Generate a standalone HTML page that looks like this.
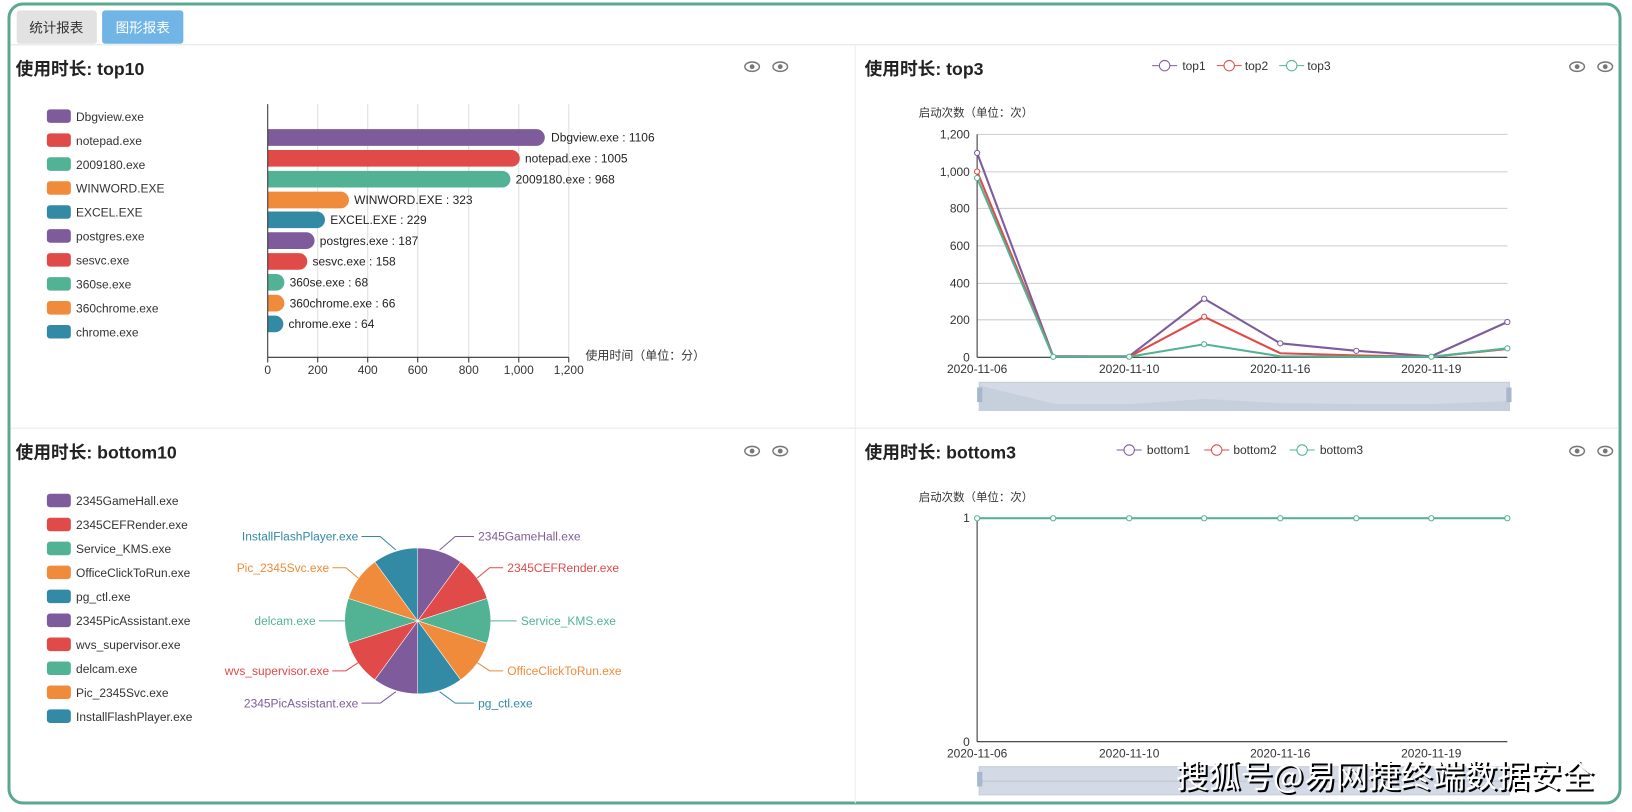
<!DOCTYPE html>
<html><head><meta charset="utf-8"><style>
html,body{margin:0;padding:0;background:#fff;}
svg{display:block;font-family:"Liberation Sans","Noto Sans CJK SC",sans-serif;}
</style></head><body>
<svg width="1632" height="812" viewBox="0 0 1632 812" xmlns="http://www.w3.org/2000/svg">
<defs>
<g id="eye"><ellipse cx="0" cy="0" rx="7" ry="4.5" fill="none" stroke="#777" stroke-width="1.4"/><circle cx="0" cy="0" r="2.3" fill="#777"/></g>
</defs>
<rect x="9" y="4" width="1611" height="799" rx="14" fill="#fff" stroke="#5aa88f" stroke-width="3"/>
<g transform="scale(1.0417)">
<rect x="16" y="10" width="77" height="32" rx="3" fill="#e2e2e2"/>
<text x="54" y="31" font-size="13" fill="#333" text-anchor="middle">统计报表</text>
<rect x="98" y="10" width="78" height="32" rx="3" fill="#70b5e6"/>
<text x="137" y="31" font-size="13" fill="#fff" text-anchor="middle">图形报表</text>
<line x1="10" y1="43" x2="1554" y2="43" stroke="#e6e6e6"/>
<line x1="821" y1="43" x2="821" y2="771" stroke="#eee"/>
<line x1="10" y1="411" x2="1554" y2="411" stroke="#e6e6e6"/>
<g font-size="17" font-weight="bold" fill="#222">
<text x="15" y="72">使用时长: top10</text>
<text x="830" y="72">使用时长: top3</text>
<text x="15" y="440">使用时长: bottom10</text>
<text x="830" y="440">使用时长: bottom3</text>
</g>
<use href="#eye" x="722" y="64"/><use href="#eye" x="749" y="64"/>
<use href="#eye" x="1514" y="64"/><use href="#eye" x="1541" y="64"/>
<use href="#eye" x="722" y="433"/><use href="#eye" x="749" y="433"/>
<use href="#eye" x="1514" y="433"/><use href="#eye" x="1541" y="433"/>

<g font-size="11.5" fill="#333">
<rect x="45" y="105" width="23" height="13" rx="3" fill="#7e5c9b"/><text x="73" y="116">Dbgview.exe</text>
<rect x="45" y="128" width="23" height="13" rx="3" fill="#e04a49"/><text x="73" y="139">notepad.exe</text>
<rect x="45" y="151" width="23" height="13" rx="3" fill="#52b394"/><text x="73" y="162">2009180.exe</text>
<rect x="45" y="174" width="23" height="13" rx="3" fill="#ef8b3a"/><text x="73" y="185">WINWORD.EXE</text>
<rect x="45" y="197" width="23" height="13" rx="3" fill="#338aa4"/><text x="73" y="208">EXCEL.EXE</text>
<rect x="45" y="220" width="23" height="13" rx="3" fill="#7e5c9b"/><text x="73" y="231">postgres.exe</text>
<rect x="45" y="243" width="23" height="13" rx="3" fill="#e04a49"/><text x="73" y="254">sesvc.exe</text>
<rect x="45" y="266" width="23" height="13" rx="3" fill="#52b394"/><text x="73" y="277">360se.exe</text>
<rect x="45" y="289" width="23" height="13" rx="3" fill="#ef8b3a"/><text x="73" y="300">360chrome.exe</text>
<rect x="45" y="312" width="23" height="13" rx="3" fill="#338aa4"/><text x="73" y="323">chrome.exe</text>
</g>
<g stroke="#ddd">
<line x1="305" y1="100" x2="305" y2="343"/><line x1="353" y1="100" x2="353" y2="343"/>
<line x1="401" y1="100" x2="401" y2="343"/><line x1="450" y1="100" x2="450" y2="343"/>
<line x1="498" y1="100" x2="498" y2="343"/><line x1="546" y1="100" x2="546" y2="343"/>
</g>
<g>
<path d="M257 124 H515 A8 8 0 0 1 515 140 H257Z" fill="#7e5c9b"/>
<path d="M257 144 H491 A8 8 0 0 1 491 160 H257Z" fill="#e04a49"/>
<path d="M257 164 H482 A8 8 0 0 1 482 180 H257Z" fill="#52b394"/>
<path d="M257 184 H327 A8 8 0 0 1 327 200 H257Z" fill="#ef8b3a"/>
<path d="M257 203 H304 A8 8 0 0 1 304 219 H257Z" fill="#338aa4"/>
<path d="M257 223 H294 A8 8 0 0 1 294 239 H257Z" fill="#7e5c9b"/>
<path d="M257 243 H287 A8 8 0 0 1 287 259 H257Z" fill="#e04a49"/>
<path d="M257 263 H265 A8 8 0 0 1 265 279 H257Z" fill="#52b394"/>
<path d="M257 283 H265 A8 8 0 0 1 265 299 H257Z" fill="#ef8b3a"/>
<path d="M257 303 H264 A8 8 0 0 1 264 319 H257Z" fill="#338aa4"/>
</g>
<g font-size="11.5" fill="#222">
<text x="529" y="136">Dbgview.exe : 1106</text>
<text x="504" y="156">notepad.exe : 1005</text>
<text x="495" y="176">2009180.exe : 968</text>
<text x="340" y="196">WINWORD.EXE : 323</text>
<text x="317" y="215">EXCEL.EXE : 229</text>
<text x="307" y="235">postgres.exe : 187</text>
<text x="300" y="255">sesvc.exe : 158</text>
<text x="278" y="275">360se.exe : 68</text>
<text x="278" y="295">360chrome.exe : 66</text>
<text x="277" y="315">chrome.exe : 64</text>
</g>
<line x1="257" y1="100" x2="257" y2="343" stroke="#333"/>
<line x1="257" y1="343" x2="546" y2="343" stroke="#333"/>
<g stroke="#333"><line x1="257" y1="343" x2="257" y2="348"/><line x1="305" y1="343" x2="305" y2="348"/><line x1="353" y1="343" x2="353" y2="348"/><line x1="401" y1="343" x2="401" y2="348"/><line x1="450" y1="343" x2="450" y2="348"/><line x1="498" y1="343" x2="498" y2="348"/><line x1="546" y1="343" x2="546" y2="348"/></g>
<g font-size="11.5" fill="#333" text-anchor="middle">
<text x="257" y="359">0</text><text x="305" y="359">200</text><text x="353" y="359">400</text><text x="401" y="359">600</text><text x="450" y="359">800</text><text x="498" y="359">1,000</text><text x="546" y="359">1,200</text>
</g>
<text x="562" y="345" font-size="11.5" fill="#333">使用时间（单位：分）</text>

<g font-size="11.5" fill="#333">
<line x1="1106" y1="63" x2="1130" y2="63" stroke="#7e5c9b"/><circle cx="1118" cy="63" r="5" fill="#fff" stroke="#7e5c9b"/><text x="1135" y="67">top1</text>
<line x1="1168" y1="63" x2="1192" y2="63" stroke="#e04a49"/><circle cx="1180" cy="63" r="5" fill="#fff" stroke="#e04a49"/><text x="1195" y="67">top2</text>
<line x1="1228" y1="63" x2="1252" y2="63" stroke="#52b394"/><circle cx="1240" cy="63" r="5" fill="#fff" stroke="#52b394"/><text x="1255" y="67">top3</text>
</g>
<text x="882" y="112" font-size="11" fill="#333">启动次数（单位：次）</text>
<g stroke="#ccc">
<line x1="938" y1="129" x2="1447" y2="129"/><line x1="938" y1="165" x2="1447" y2="165"/><line x1="938" y1="200" x2="1447" y2="200"/><line x1="938" y1="236" x2="1447" y2="236"/><line x1="938" y1="272" x2="1447" y2="272"/><line x1="938" y1="307" x2="1447" y2="307"/>
</g>
<line x1="938" y1="129" x2="938" y2="343" stroke="#333"/>
<line x1="938" y1="343" x2="1447" y2="343" stroke="#333"/>
<g font-size="11.5" fill="#333" text-anchor="end">
<text x="931" y="133">1,200</text><text x="931" y="169">1,000</text><text x="931" y="204">800</text><text x="931" y="240">600</text><text x="931" y="276">400</text><text x="931" y="311">200</text><text x="931" y="347">0</text>
</g>
<g font-size="11.5" fill="#333" text-anchor="middle">
<text x="938" y="358">2020-11-06</text><text x="1084" y="358">2020-11-10</text><text x="1229" y="358">2020-11-16</text><text x="1374" y="358">2020-11-19</text>
</g>
<g fill="none" stroke-width="2">
<polyline points="938,146.8 1011,342 1084,342 1156,286.8 1229,329.6 1302,336.8 1374,342 1447,309.1" stroke="#7e5c9b"/>
<polyline points="938,164.7 1011,342 1084,342.5 1156,304.1 1229,339.1 1302,341.2 1374,342.5 1447,335" stroke="#e04a49"/>
<polyline points="938,170.9 1011,342.5 1084,342.5 1156,330.5 1229,342 1302,342.5 1374,342.5 1447,334.4" stroke="#52b394"/>
</g>
<g fill="#fff" stroke-width="1">
<circle cx="938" cy="146.8" r="2.5" stroke="#7e5c9b"/><circle cx="1156" cy="286.8" r="2.5" stroke="#7e5c9b"/><circle cx="1229" cy="329.6" r="2.5" stroke="#7e5c9b"/><circle cx="1302" cy="336.8" r="2.5" stroke="#7e5c9b"/><circle cx="1447" cy="309.1" r="2.5" stroke="#7e5c9b"/>
<circle cx="938" cy="164.7" r="2.5" stroke="#e04a49"/><circle cx="1156" cy="304.1" r="2.5" stroke="#e04a49"/>
<circle cx="938" cy="170.9" r="2.5" stroke="#52b394"/><circle cx="1011" cy="342.5" r="2.5" stroke="#52b394"/><circle cx="1084" cy="342.5" r="2.5" stroke="#52b394"/><circle cx="1156" cy="330.5" r="2.5" stroke="#52b394"/><circle cx="1374" cy="342.5" r="2.5" stroke="#52b394"/><circle cx="1447" cy="334.4" r="2.5" stroke="#52b394"/>
</g>
<rect x="940" y="367" width="509" height="27" fill="#d3dae5" stroke="#c3cbd8"/>
<path d="M940 370 L1013 388 L1084 388 L1156 383 L1229 387 L1302 388 L1374 388 L1449 385 L1449 394 L940 394Z" fill="#c6cfdc"/>
<rect x="938" y="372" width="5" height="14" fill="#a7b7cc"/><rect x="1446" y="372" width="5" height="14" fill="#a7b7cc"/>

<g font-size="11.5" fill="#333">
<rect x="45" y="474" width="23" height="13" rx="3" fill="#7e5c9b"/><text x="73" y="485">2345GameHall.exe</text>
<rect x="45" y="497" width="23" height="13" rx="3" fill="#e04a49"/><text x="73" y="508">2345CEFRender.exe</text>
<rect x="45" y="520" width="23" height="13" rx="3" fill="#52b394"/><text x="73" y="531">Service_KMS.exe</text>
<rect x="45" y="543" width="23" height="13" rx="3" fill="#ef8b3a"/><text x="73" y="554">OfficeClickToRun.exe</text>
<rect x="45" y="566" width="23" height="13" rx="3" fill="#338aa4"/><text x="73" y="577">pg_ctl.exe</text>
<rect x="45" y="589" width="23" height="13" rx="3" fill="#7e5c9b"/><text x="73" y="600">2345PicAssistant.exe</text>
<rect x="45" y="612" width="23" height="13" rx="3" fill="#e04a49"/><text x="73" y="623">wvs_supervisor.exe</text>
<rect x="45" y="635" width="23" height="13" rx="3" fill="#52b394"/><text x="73" y="646">delcam.exe</text>
<rect x="45" y="658" width="23" height="13" rx="3" fill="#ef8b3a"/><text x="73" y="669">Pic_2345Svc.exe</text>
<rect x="45" y="681" width="23" height="13" rx="3" fill="#338aa4"/><text x="73" y="692">InstallFlashPlayer.exe</text>
</g>
<g stroke="#fff" stroke-width="0.5">
<path d="M401 596 L401 526 A70 70 0 0 1 442.2 539.4Z" fill="#7e5c9b"/>
<path d="M401 596 L442.2 539.4 A70 70 0 0 1 467.6 574.4Z" fill="#e04a49"/>
<path d="M401 596 L467.6 574.4 A70 70 0 0 1 467.6 617.6Z" fill="#52b394"/>
<path d="M401 596 L467.6 617.6 A70 70 0 0 1 442.2 652.6Z" fill="#ef8b3a"/>
<path d="M401 596 L442.2 652.6 A70 70 0 0 1 401 666Z" fill="#338aa4"/>
<path d="M401 596 L401 666 A70 70 0 0 1 359.8 652.6Z" fill="#7e5c9b"/>
<path d="M401 596 L359.8 652.6 A70 70 0 0 1 334.4 617.6Z" fill="#e04a49"/>
<path d="M401 596 L334.4 617.6 A70 70 0 0 1 334.4 574.4Z" fill="#52b394"/>
<path d="M401 596 L334.4 574.4 A70 70 0 0 1 359.8 539.4Z" fill="#ef8b3a"/>
<path d="M401 596 L359.8 539.4 A70 70 0 0 1 401 526Z" fill="#338aa4"/>
</g>
<g fill="none" stroke-width="1">
<polyline points="422,528 437,515 455,515" stroke="#7e5c9b"/>
<polyline points="458,555 470,545 483,545" stroke="#e04a49"/>
<polyline points="471,596 496,596" stroke="#52b394"/>
<polyline points="458,636 470,644 483,644" stroke="#ef8b3a"/>
<polyline points="422,664 437,675 455,675" stroke="#338aa4"/>
<polyline points="380,664 365,675 347,675" stroke="#7e5c9b"/>
<polyline points="344,636 332,644 319,644" stroke="#e04a49"/>
<polyline points="331,596 306,596" stroke="#52b394"/>
<polyline points="344,555 332,545 319,545" stroke="#ef8b3a"/>
<polyline points="380,528 365,515 347,515" stroke="#338aa4"/>
</g>
<g font-size="11.5">
<text x="459" y="519" fill="#7e5c9b">2345GameHall.exe</text>
<text x="487" y="549" fill="#e04a49">2345CEFRender.exe</text>
<text x="500" y="600" fill="#52b394">Service_KMS.exe</text>
<text x="487" y="648" fill="#ef8b3a">OfficeClickToRun.exe</text>
<text x="459" y="679" fill="#338aa4">pg_ctl.exe</text>
<g text-anchor="end">
<text x="344" y="679" fill="#7e5c9b">2345PicAssistant.exe</text>
<text x="316" y="648" fill="#e04a49">wvs_supervisor.exe</text>
<text x="303" y="600" fill="#52b394">delcam.exe</text>
<text x="316" y="549" fill="#ef8b3a">Pic_2345Svc.exe</text>
<text x="344" y="519" fill="#338aa4">InstallFlashPlayer.exe</text>
</g>
</g>

<g font-size="11.5" fill="#333">
<line x1="1072" y1="432" x2="1096" y2="432" stroke="#7e5c9b"/><circle cx="1084" cy="432" r="5" fill="#fff" stroke="#7e5c9b"/><text x="1101" y="436">bottom1</text>
<line x1="1156" y1="432" x2="1180" y2="432" stroke="#e04a49"/><circle cx="1168" cy="432" r="5" fill="#fff" stroke="#e04a49"/><text x="1184" y="436">bottom2</text>
<line x1="1238" y1="432" x2="1262" y2="432" stroke="#52b394"/><circle cx="1250" cy="432" r="5" fill="#fff" stroke="#52b394"/><text x="1267" y="436">bottom3</text>
</g>
<text x="882" y="481" font-size="11" fill="#333">启动次数（单位：次）</text>
<line x1="938" y1="497" x2="1447" y2="497" stroke="#ccc"/>
<line x1="938" y1="497" x2="938" y2="712" stroke="#333"/>
<line x1="938" y1="712" x2="1447" y2="712" stroke="#333"/>
<g font-size="11.5" fill="#333" text-anchor="end"><text x="931" y="501">1</text><text x="931" y="716">0</text></g>
<g font-size="11.5" fill="#333" text-anchor="middle">
<text x="938" y="727">2020-11-06</text><text x="1084" y="727">2020-11-10</text><text x="1229" y="727">2020-11-16</text><text x="1374" y="727">2020-11-19</text>
</g>
<line x1="938" y1="497.5" x2="1447" y2="497.5" stroke="#52b394" stroke-width="2"/>
<g fill="#fff" stroke="#52b394">
<circle cx="938" cy="497.5" r="2.5"/><circle cx="1011" cy="497.5" r="2.5"/><circle cx="1084" cy="497.5" r="2.5"/><circle cx="1156" cy="497.5" r="2.5"/><circle cx="1229" cy="497.5" r="2.5"/><circle cx="1302" cy="497.5" r="2.5"/><circle cx="1374" cy="497.5" r="2.5"/><circle cx="1447" cy="497.5" r="2.5"/>
</g>
<rect x="940" y="736" width="509" height="27" fill="#d3dae5" stroke="#c3cbd8"/>
<line x1="940" y1="750" x2="1449" y2="750" stroke="#bcc6d4"/>
<rect x="938" y="741" width="5" height="14" fill="#a7b7cc"/>
<text x="1131" y="758" font-size="31" fill="#000" font-family="'Noto Sans CJK SC',sans-serif">搜狐号@易网捷终端数据安全</text>
<text x="1129" y="756" font-size="31" fill="#fff" font-family="'Noto Sans CJK SC',sans-serif">搜狐号@易网捷终端数据安全</text>
</g>
</svg>
</body></html>
